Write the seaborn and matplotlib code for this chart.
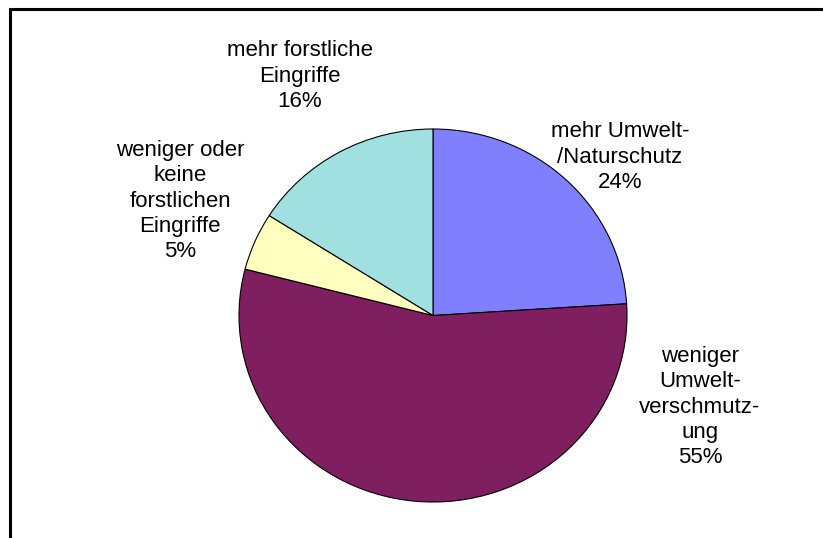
import matplotlib
matplotlib.use("Agg")
import matplotlib.pyplot as plt
import seaborn as sns

labels = ["mehr Umwelt-\n/Naturschutz", "weniger\nUmwelt-\nverschmutz-\nung",
          "weniger oder\nkeine\nforstlichen\nEingriffe", "mehr forstliche\nEingriffe"]
shares = [24, 55, 5, 16]
colors = ["#8080FF", "#7F1F5F", "#FFFFC0", "#A0E0E0"]

# label centres in pixels of the image (x from left, y from top)
label_pos = [(620, 157), (700, 407), (180, 201), (300, 76)]

W, H = 823, 538
cx, cy = 433, 315.5      # pie centre (px)
rx, ry = 194, 186.5      # pie is slightly wider than tall

sns.set_theme(style="white")
plt.rcParams["font.family"] = ["Liberation Sans", "DejaVu Sans"]

fig = plt.figure(figsize=(W / 100, H / 100), dpi=100)
ax = fig.add_axes([0, 0, 1, 1])

ax.pie(shares, colors=colors, startangle=90, counterclock=False,
       wedgeprops=dict(edgecolor="black", linewidth=0.8))

for lab, val, (x, y) in zip(labels, shares, label_pos):
    ax.text((x - cx) / rx, (cy - y) / ry, f"{lab}\n{val}%", ha="center", va="center",
            fontsize=16, linespacing=1.27, color="black")

ax.set_aspect("auto")
ax.set_xlim(-cx / rx, (W - cx) / rx)
ax.set_ylim(-(H - cy) / ry, cy / ry)
ax.axis("off")

# chart frame (runs off the right and bottom edges)
fig.add_artist(plt.Line2D([10 / W, 10 / W], [0, 1 - 9 / H],
                          color="black", linewidth=2.2, transform=fig.transFigure))
fig.add_artist(plt.Line2D([10 / W, 1], [1 - 9 / H, 1 - 9 / H],
                          color="black", linewidth=2.2, transform=fig.transFigure))

fig.savefig("out.png", dpi=100)
